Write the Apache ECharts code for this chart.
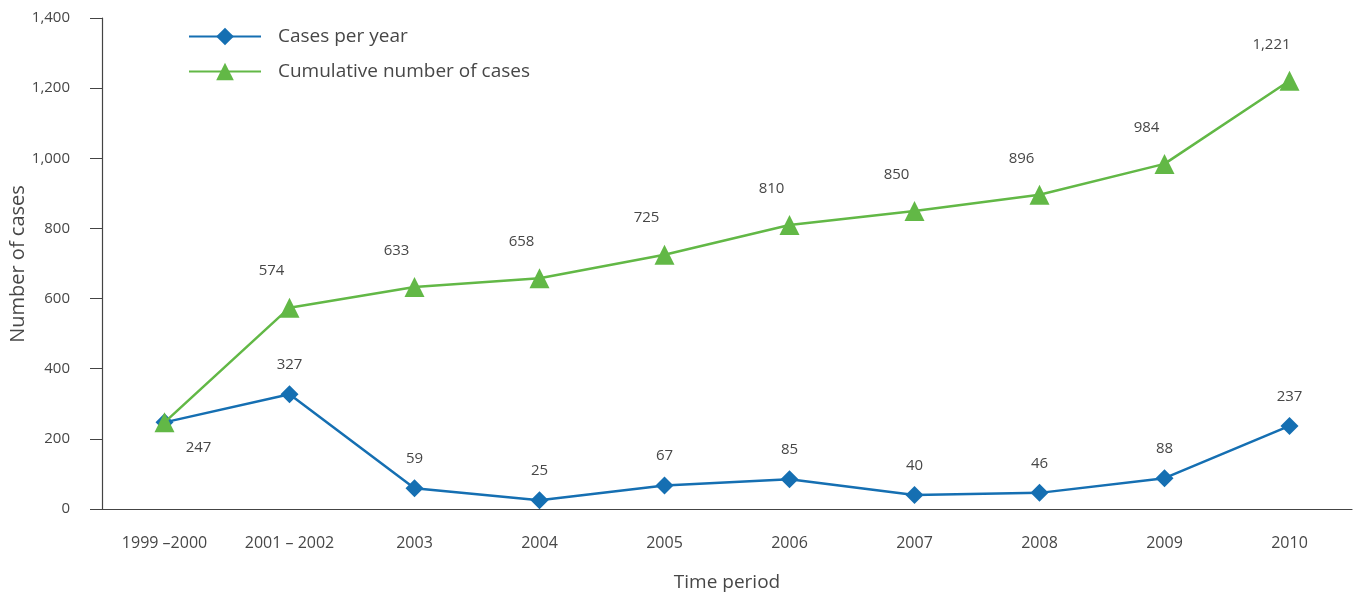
<!DOCTYPE html>
<html><head><meta charset="utf-8">
<script src="https://cdn.jsdelivr.net/npm/echarts@6/dist/echarts.min.js"></script>
<style>html,body{margin:0;padding:0;background:#fff}#c{width:1360px;height:596px}</style>
</head><body><div id="c"></div>
<script>
var categories = ['1999 \u20132000', '2001 \u2013 2002', '2003', '2004', '2005', '2006', '2007', '2008', '2009', '2010'];
var casesPerYear = [247, 327, 59, 25, 67, 85, 40, 46, 88, 237];
var cumulative = [247, 574, 633, 658, 725, 810, 850, 896, 984, 1221];
var yTicks = [0, 200, 400, 600, 800, 1000, 1200, 1400];
var yAxisTitle = 'Number of cases';

var FONT = '"Open Sans", "Noto Sans", sans-serif';
var TXT = '#474747';
var chart = echarts.init(document.getElementById('c'));
chart.setOption({
  animation: false,
  textStyle: {fontFamily: FONT},
  grid: {left: 102, right: 8, top: 18, bottom: 87, containLabel: false, outerBoundsMode: 'none'},
  legend: {
    orient: 'vertical', left: 183, top: 22, itemWidth: 72, itemHeight: 22, itemGap: 16,
    textStyle: {fontSize: 19, color: TXT, fontFamily: FONT, padding: [0, 0, 0, 12]},
    data: ['Cases per year', 'Cumulative number of cases']
  },
  graphic: [{
    type: 'text', x: 18, y: 264, rotation: Math.PI / 2,
    style: {text: yAxisTitle, fontSize: 20, fill: TXT, fontFamily: FONT,
      align: 'center', verticalAlign: 'middle'}
  }],
  xAxis: {
    type: 'category', data: categories, boundaryGap: true,
    name: 'Time period', nameLocation: 'middle', nameGap: 64,
    nameTextStyle: {fontSize: 19, color: TXT, fontFamily: FONT},
    axisLine: {lineStyle: {color: '#444', width: 1.2}},
    axisTick: {length: 10, lineStyle: {color: '#444'}},
    axisLabel: {fontSize: 16, color: TXT, margin: 26, fontFamily: FONT}
  },
  yAxis: {
    type: 'value', min: 0, max: 1400, interval: 200,
    axisLine: {show: true, lineStyle: {color: '#444', width: 1.2}},
    axisTick: {show: true, length: 12, lineStyle: {color: '#444'}},
    splitLine: {show: false},
    axisLabel: {fontSize: 15, color: TXT, margin: 32, fontFamily: FONT,
      formatter: function (v) { return yTicks.indexOf(v) >= 0 ? v.toLocaleString('en-US') : ''; }}
  },
  series: [
    {
      name: 'Cases per year', type: 'line', data: casesPerYear, z: 3,
      symbol: 'diamond', symbolSize: 18,
      lineStyle: {color: '#156fb2', width: 2.5},
      itemStyle: {color: '#156fb2'},
      label: {show: true, position: 'top', distance: 13, offset: [-6, 0],
        fontSize: 15, color: TXT, fontFamily: FONT},
      labelLayout: function (p) {
        if (p.dataIndex === 0) { return {dx: 34, dy: 55}; }
        return {};
      }
    },
    {
      name: 'Cumulative number of cases', type: 'line', data: cumulative, z: 4,
      symbol: 'triangle', symbolSize: 20,
      lineStyle: {color: '#62b846', width: 2.5},
      itemStyle: {color: '#62b846'},
      label: {show: true, position: 'top', distance: 19, offset: [-18, 0],
        fontSize: 15, color: TXT, fontFamily: FONT,
        formatter: function (p) { return p.dataIndex === 0 ? '' : p.value.toLocaleString('en-US'); }}
    }
  ]
});
</script></body></html>
